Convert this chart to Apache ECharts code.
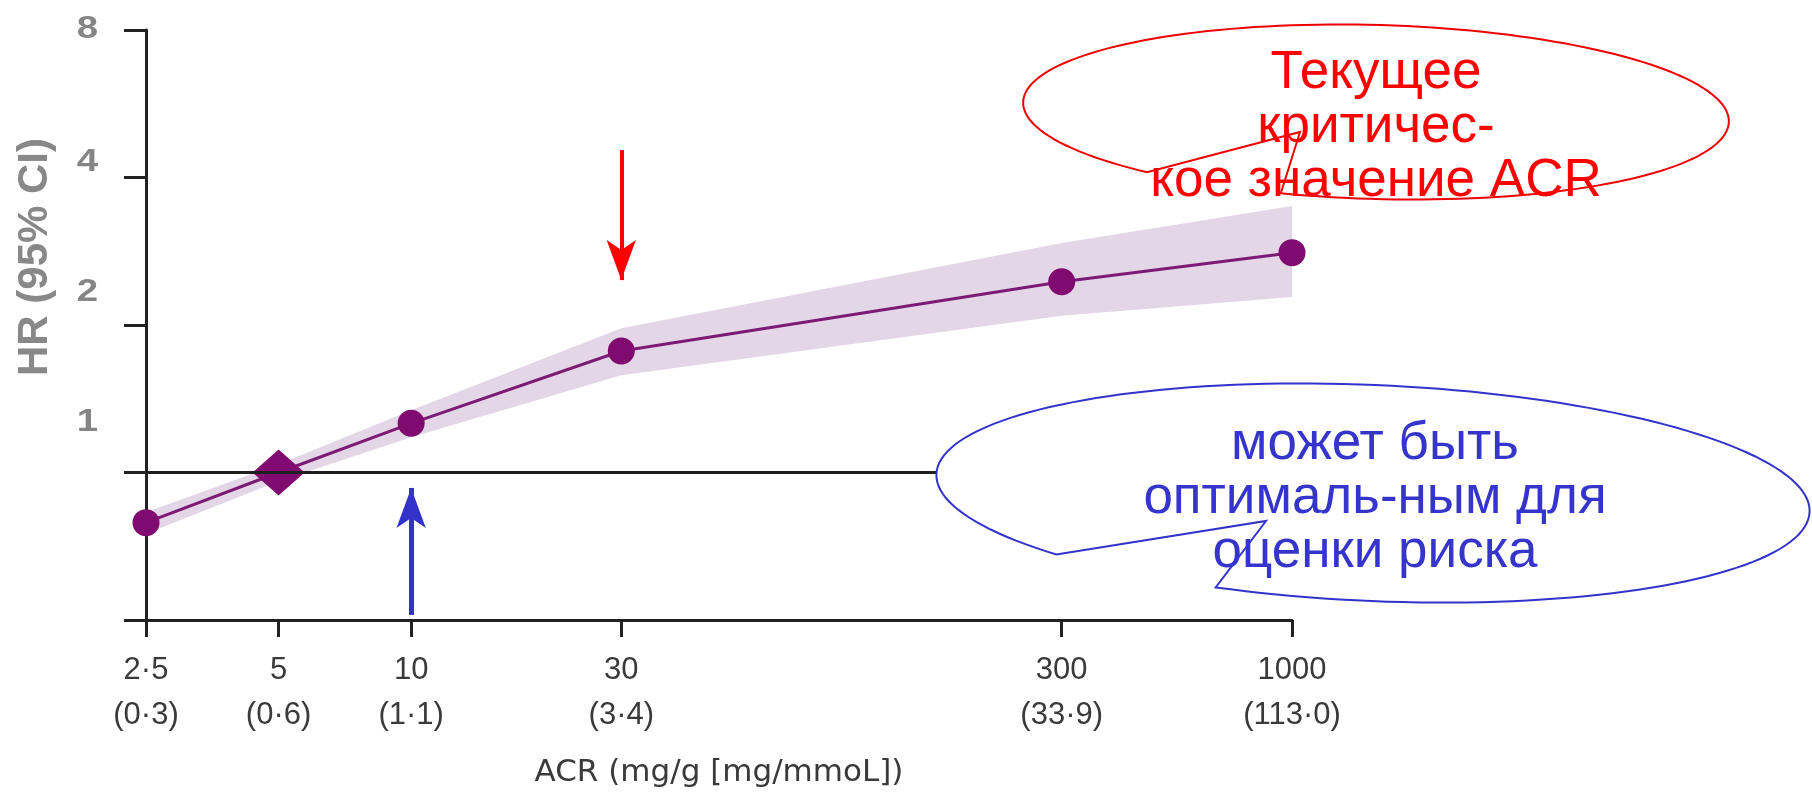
<!DOCTYPE html>
<html>
<head>
<meta charset="utf-8">
<script src="https://cdn.jsdelivr.net/npm/echarts@6.0.0/dist/echarts.min.js"></script>
<style>
  html, body { margin: 0; padding: 0; background: #fff; }
  #chart { width: 1812px; height: 796px; }
</style>
</head>
<body>
<div id="chart"></div>
<script>
// ACR categories (mg/g) and their mg/mmol equivalents
const acr = [2.5, 5, 10, 30, 300, 1000]
const acrText = ['2·5', '5', '10', '30', '300', '1000']
const acrMmolText = ['(0·3)', '(0·6)', '(1·1)', '(3·4)', '(33·9)', '(113·0)']

// hazard ratios with 95% CI, ACR 5 is the reference
const hr = [0.79, 1.0, 1.26, 1.77, 2.45, 2.81]
const ciLow = [0.75, 0.96, 1.18, 1.58, 2.09, 2.28]
const ciHigh = [0.83, 1.04, 1.34, 1.97, 2.94, 3.5]
const refIndex = 1

const hrTicks = [0.5, 1, 2, 4, 8]
const hrTickText = ['', '1', '2', '4', '8']

// annotation arrows [acr, hr] start -> end
const redArrow = [[30, 4.55], [30, 2.47]]
const blueArrow = [[10, 0.512], [10, 0.93]]

const redNote = ['Текущее', 'критичес-', 'кое значение ACR']
const blueNote = ['может быть', 'оптималь-ным для', 'оценки риска']

const font = '"Liberation Sans", Arial, sans-serif'
// in the original the y labels drift upward from their ticks (px)
const labelLift = { 8: 1, 4: 15, 2: 33, 1: 50 }

// speech bubble outline: tilted ellipse, open between base1 and base2, closed by a tail tip
function bubble(cx, cy, rx, ry, rotDeg, base1, base2, tip) {
  var r = rotDeg * Math.PI / 180
  var c = Math.cos(r), s = Math.sin(r)
  function angleOf(p) {
    var dx = p[0] - cx, dy = p[1] - cy
    var ux = dx * c + dy * s, uy = -dx * s + dy * c
    return Math.atan2(uy / ry, ux / rx)
  }
  var a0 = angleOf(base2)
  var a1 = angleOf(base1)
  while (a1 >= a0) a1 -= Math.PI * 2
  var pts = []
  var n = 160
  for (var k = 0; k <= n; k++) {
    var t = a0 + (a1 - a0) * k / n
    var ux = rx * Math.cos(t), uy = ry * Math.sin(t)
    pts.push([cx + ux * c - uy * s, cy + ux * s + uy * c])
  }
  pts.push(tip)
  return pts
}

var chart = echarts.init(document.getElementById('chart'))

var option = {
  animation: false,
  grid: { left: 146, right: 520, top: 30, bottom: 176, containLabel: false, outerBoundsMode: 'none' },
  xAxis: {
    type: 'log',
    logBase: 10,
    min: 2.5,
    max: 1000,
    name: 'ACR (mg/g [mg/mmoL])',
    nameLocation: 'middle',
    nameGap: 137,
    nameTextStyle: { fontFamily: '"DejaVu Sans", sans-serif', fontSize: 31, color: '#3a3a3a' },
    axisLine: { lineStyle: { color: '#222', width: 3 } },
    axisTick: { customValues: acr, length: 17, lineStyle: { color: '#222', width: 3 } },
    axisLabel: {
      customValues: acr,
      margin: 28,
      fontFamily: font,
      fontSize: 31,
      lineHeight: 45,
      color: '#3a3a3a',
      formatter: function (v) {
        var i = acr.findIndex(a => Math.abs(a - v) < 1e-6)
        return i < 0 ? '' : acrText[i] + '\n' + acrMmolText[i]
      }
    },
    splitLine: { show: false }
  },
  yAxis: {
    type: 'log',
    logBase: 2,
    min: 0.5,
    max: 8,
    name: 'HR (95% CI)',
    nameLocation: 'middle',
    nameRotate: 90,
    nameGap: 90,
    nameTextStyle: { fontFamily: font, fontSize: 42, fontWeight: 'bold', color: '#888', padding: [0, 0, 0, 136] },
    axisLine: { lineStyle: { color: '#222', width: 3 } },
    axisTick: { customValues: hrTicks, length: 22, lineStyle: { color: '#222', width: 3 } },
    // tick labels are placed below, off their ticks like the original
    axisLabel: { show: false },
    splitLine: { show: false }
  },
  series: [
    {
      name: '95% CI',
      type: 'custom',
      z: 1,
      silent: true,
      data: [[acr[0], hr[0]]],
      renderItem: function (params, api) {
        var top = acr.map((x, i) => api.coord([x, ciHigh[i]]))
        var bottom = acr.map((x, i) => api.coord([x, ciLow[i]])).reverse()
        return {
          type: 'polygon',
          shape: { points: top.concat(bottom) },
          style: { fill: '#e3d6e7' }
        }
      }
    },
    {
      name: 'HR',
      type: 'line',
      z: 2,
      showAllSymbol: true,
      data: acr.map((x, i) => i === refIndex
        ? { value: [x, hr[i]], symbol: 'diamond', symbolSize: [52, 46] }
        : { value: [x, hr[i]], symbol: 'circle', symbolSize: 27 }),
      lineStyle: { color: '#7d1a74', width: 3 },
      itemStyle: { color: '#800a70' },
      markLine: {
        silent: true,
        symbol: ['none', 'arrow'],
        symbolSize: [22, 40],
        label: { show: false },
        data: [
          [{ coord: redArrow[0], lineStyle: { color: '#ff0000', width: 4, type: 'solid' } }, { coord: redArrow[1] }],
          [{ coord: blueArrow[0], lineStyle: { color: '#3333cc', width: 5, type: 'solid' } }, { coord: blueArrow[1] }]
        ]
      }
    },
    {
      name: 'HR = 1',
      type: 'line',
      z: 3,
      symbol: 'none',
      silent: true,
      data: [[acr[0], 1], [acr[acr.length - 1], 1]],
      lineStyle: { color: '#1e1e1e', width: 3 }
    }
  ],
  graphic: [
    {
      type: 'polygon',
      z: 100,
      shape: { points: bubble(1376, 112, 353, 87, 1.6, [1144, 173], [1280, 194], [1300, 132]) },
      style: { fill: '#fff', stroke: '#ee0000', lineWidth: 2 }
    },
    {
      type: 'polygon',
      z: 100,
      shape: { points: bubble(1373, 493, 437, 108, 2.5, [1069, 552], [1238, 574], [1266, 521]) },
      style: { fill: '#fff', stroke: '#3333cc', lineWidth: 2 }
    },
    {
      type: 'text',
      z: 101,
      x: 1376,
      y: 127,
      style: {
        text: redNote.join('\n'),
        fontFamily: font,
        fontSize: 53,
        lineHeight: 54,
        fill: '#ff0000',
        align: 'center',
        verticalAlign: 'middle'
      }
    },
    {
      type: 'text',
      z: 101,
      x: 1375,
      y: 498,
      style: {
        text: blueNote.join('\n'),
        fontFamily: font,
        fontSize: 53,
        lineHeight: 54,
        fill: '#3535cc',
        align: 'center',
        verticalAlign: 'middle'
      }
    }
  ]
}

chart.setOption(option)

// y tick labels, positioned from the axis scale then lifted
var axisX = chart.convertToPixel({ xAxisIndex: 0 }, acr[0])
var yLabels = []
hrTicks.forEach(function (v, i) {
  var t = hrTickText[i]
  if (!t) return
  yLabels.push({
    type: 'text',
    z: 5,
    x: axisX - 48,
    y: chart.convertToPixel({ yAxisIndex: 0 }, v) - labelLift[t],
    scaleX: 1.2,
    style: {
      text: t,
      fontFamily: font,
      fontSize: 32,
      fontWeight: 'bold',
      fill: '#858585',
      align: 'right',
      verticalAlign: 'middle'
    }
  })
})
chart.setOption({ graphic: option.graphic.concat(yLabels) })
</script>
</body>
</html>
